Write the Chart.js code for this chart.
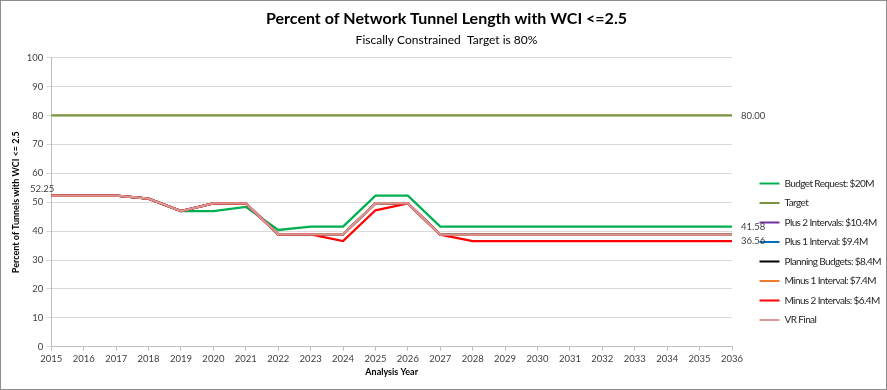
<!DOCTYPE html>
<html>
<head>
<meta charset="utf-8">
<script src="https://cdn.jsdelivr.net/npm/chart.js@4.4.1/dist/chart.umd.min.js"></script>
<style>
  html, body { margin: 0; padding: 0; background: #fff; }
  #wrap {
    width: 887px; height: 390px; box-sizing: border-box;
    border: 1px solid #8c8c8c; position: relative; background: #fff;
  }
  #wrap canvas { display: block; }
</style>
</head>
<body>
<div id="wrap"><canvas id="wciChart" width="885" height="388"></canvas></div>
<script>
const FONT = "Lato, 'Liberation Sans', sans-serif";

const years = ['2015','2016','2017','2018','2019','2020','2021','2022','2023','2024','2025',
               '2026','2027','2028','2029','2030','2031','2032','2033','2034','2035','2036'];

const budgetRequest = [52.25, 52.25, 52.25, 51.2, 46.9, 46.9, 48.4, 40.4, 41.58, 41.58, 52.25,
                       52.25, 41.58, 41.58, 41.58, 41.58, 41.58, 41.58, 41.58, 41.58, 41.58, 41.58];
const target = [80, 80, 80, 80, 80, 80, 80, 80, 80, 80, 80,
                80, 80, 80, 80, 80, 80, 80, 80, 80, 80, 80];
const vrFinal = [52.25, 52.25, 52.25, 51.2, 46.9, 49.6, 49.6, 38.9, 38.9, 38.9, 49.6,
                 49.6, 38.8, 38.8, 38.8, 38.8, 38.8, 38.8, 38.8, 38.8, 38.8, 38.8];
const plus2 = vrFinal.slice();
const plus1 = vrFinal.slice();
const planning = vrFinal.slice();
const minus1 = vrFinal.slice();
const minus2 = [52.25, 52.25, 52.25, 51.2, 46.9, 49.6, 49.6, 38.9, 38.9, 36.56, 47.2,
                49.6, 38.8, 36.56, 36.56, 36.56, 36.56, 36.56, 36.56, 36.56, 36.56, 36.56];

const yTicks = [0, 10, 20, 30, 40, 50, 60, 70, 80, 90, 100];

const series = [
    { label: 'Budget Request: $20M', data: budgetRequest, color: '#00b050' },
    { label: 'Target', data: target, color: '#77933c' },
    { label: 'Plus 2 Intervals: $10.4M', data: plus2, color: '#7030a0' },
    { label: 'Plus 1 Interval: $9.4M', data: plus1, color: '#0070c0' },
    { label: 'Planning Budgets: $8.4M', data: planning, color: '#000000' },
    { label: 'Minus 1 Interval: $7.4M', data: minus1, color: '#ed7d31' },
    { label: 'Minus 2 Intervals: $6.4M', data: minus2, color: '#ff0000' },
    { label: 'VR Final', data: vrFinal, color: '#d99694' }
];

// which points get a value label, and where
const pointLabels = [
    { ds: 1, idx: 21, side: 'right' },
    { ds: 0, idx: 21, side: 'right' },
    { ds: 6, idx: 21, side: 'right' },
    { ds: 7, idx: 0, side: 'above' }
];

const valueLabels = {
    id: 'valueLabels',
    afterDatasetsDraw(chart) {
        const ctx = chart.ctx;
        ctx.save();
        ctx.font = '9.5px ' + FONT;
        ctx.fillStyle = '#404040';
        pointLabels.forEach(p => {
            const pt = chart.getDatasetMeta(p.ds).data[p.idx];
            const txt = chart.data.datasets[p.ds].data[p.idx].toFixed(2);
            if (p.side === 'right') {
                ctx.textAlign = 'left';
                ctx.textBaseline = 'middle';
                ctx.fillText(txt, pt.x + 9, pt.y);
            } else {
                ctx.textAlign = 'right';
                ctx.textBaseline = 'bottom';
                ctx.fillText(txt, pt.x + 3, pt.y - 2);
            }
        });
        ctx.restore();
    }
};

// fixed legend box: narrow column to the right of the plot
const legendPlace = {
    id: 'legendPlace',
    beforeInit(chart) {
        const lg = chart.legend;
        const fit = lg.fit;
        lg.fit = function () {
            fit.call(this);
            this.width = 154;
        };
        const draw = lg.draw;
        lg.draw = function () {
            const c = this.ctx;
            c.save();
            c.letterSpacing = '-0.6px';
            draw.apply(this, arguments);
            c.restore();
        };
    },
    afterLayout(chart) {
        const lg = chart.legend;
        lg.left += 18;
        lg.right += 18;
        lg.top = 168;
    }
};

const ctx = document.getElementById('wciChart').getContext('2d');
new Chart(ctx, {
    type: 'line',
    data: {
        labels: years,
        datasets: series.map((s, i) => ({
            label: s.label,
            data: s.data,
            borderColor: s.color,
            backgroundColor: s.color,
            borderWidth: 2.25,
            pointRadius: 0,
            fill: false,
            tension: 0,
            order: series.length - i
        }))
    },
    options: {
        responsive: false,
        animation: false,
        layout: { padding: { left: 6, right: 0, top: 8, bottom: 12 } },
        plugins: {
            legend: {
                position: 'right',
                align: 'start',
                labels: {
                    font: { family: FONT, size: 10 },
                    color: '#262626',
                    boxWidth: 20,
                    boxHeight: 2,
                    padding: 9.5,
                    sort: (a, b) => a.datasetIndex - b.datasetIndex,
                    generateLabels(chart) {
                        return Chart.defaults.plugins.legend.labels.generateLabels(chart)
                            .map(l => Object.assign(l, { lineWidth: 0, fillStyle: l.strokeStyle }));
                    }
                }
            },
            title: {
                display: true,
                text: 'Percent of Network Tunnel Length with WCI <=2.5',
                font: { family: FONT, size: 16, weight: 'bold' },
                color: '#000',
                padding: { top: 0, bottom: 3 }
            },
            subtitle: {
                display: true,
                text: 'Fiscally Constrained  Target is 80%',
                font: { family: FONT, size: 12 },
                color: '#000',
                padding: { top: 2, bottom: 10 }
            },
            tooltip: { enabled: false }
        },
        scales: {
            x: {
                offset: false,
                grid: { drawOnChartArea: false, drawTicks: true, tickLength: 4, color: '#bfbfbf' },
                border: { color: '#bfbfbf' },
                ticks: {
                    font: { family: FONT, size: 9.5 },
                    color: '#404040',
                    maxRotation: 0,
                    autoSkip: false,
                    padding: 2
                },
                title: {
                    display: true,
                    text: 'Analysis Year',
                    font: { family: FONT, size: 9, weight: 'bold' },
                    color: '#000',
                    padding: { top: 0, bottom: 0 }
                }
            },
            y: {
                min: 0,
                max: 100,
                afterBuildTicks(scale) {
                    scale.ticks = yTicks.map(v => ({ value: v }));
                },
                grid: { color: '#d9d9d9', tickLength: 5, drawTicks: true },
                border: { color: '#bfbfbf' },
                ticks: {
                    font: { family: FONT, size: 9.5 },
                    color: '#404040',
                    padding: 3
                },
                title: {
                    display: true,
                    text: 'Percent of Tunnels with WCI <= 2.5',
                    font: { family: FONT, size: 9, weight: 'bold' },
                    color: '#000',
                    padding: { top: 4, bottom: 2 }
                }
            }
        }
    },
    plugins: [valueLabels, legendPlace]
});
</script>
</body>
</html>
